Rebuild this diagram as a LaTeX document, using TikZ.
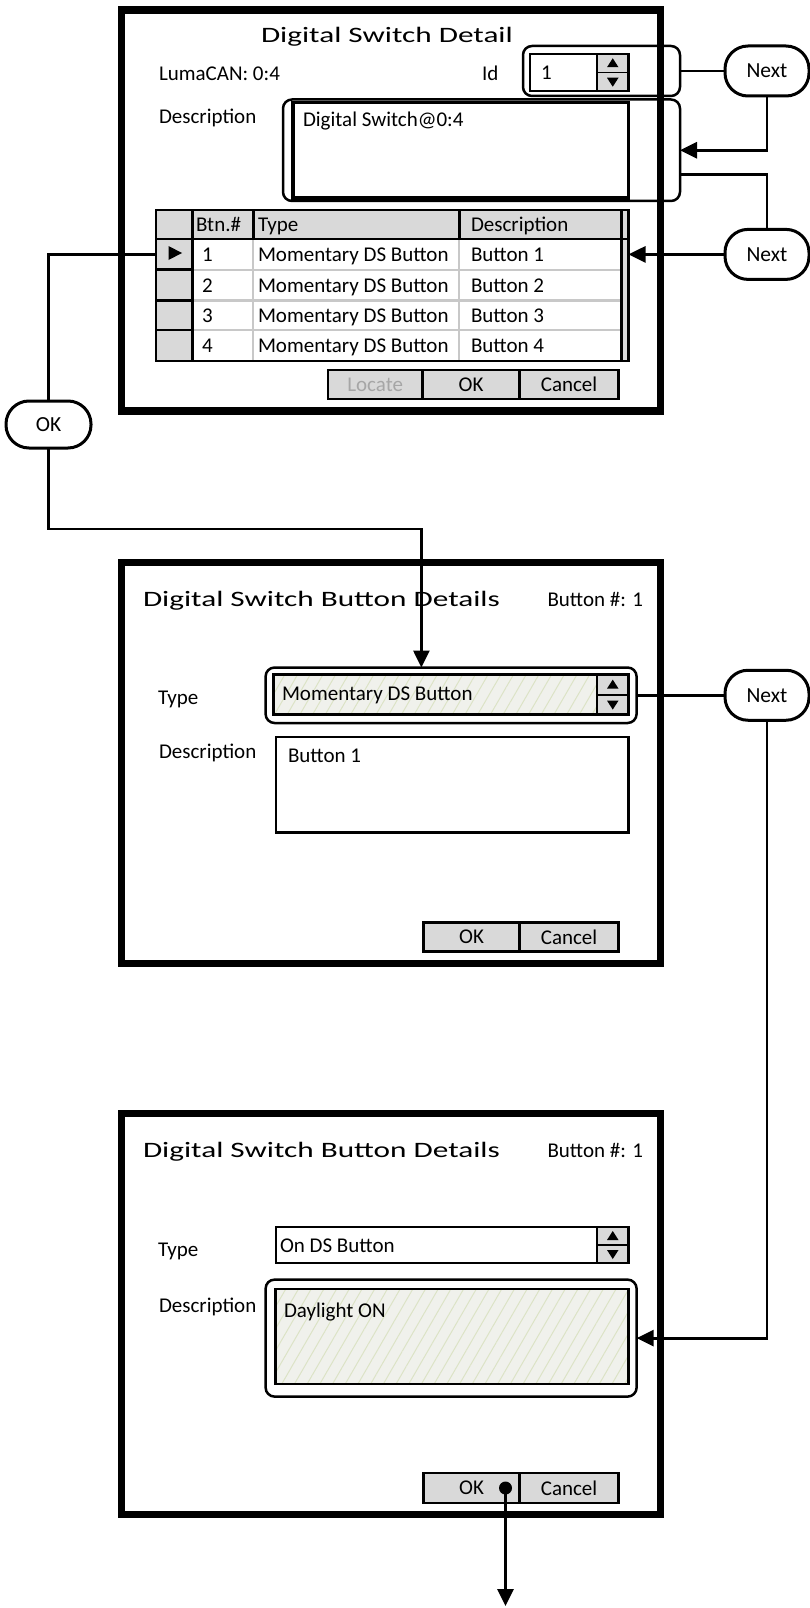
\documentclass[tikz,border=0pt]{standalone}
\usepackage{fontspec}
\setmainfont{Carlito}
\newfontfamily\wideface[FakeStretch=1.42]{Carlito}
\usetikzlibrary{arrows.meta,patterns.meta,positioning}

\definecolor{panelgray}{HTML}{D9D9D9}
\definecolor{gridgray}{HTML}{C8C8C8}
\definecolor{hatchbg}{HTML}{F0F1EC}
\definecolor{hatchln}{HTML}{DCE3C6}
\definecolor{dimtext}{HTML}{A6A6A6}

\tikzset{
  every node/.style={inner sep=0pt, outer sep=0pt},
  txt/.style={font=\fontsize{21}{25}\selectfont, anchor=base west},
  heading/.style={font=\wideface\fontsize{22}{26}\selectfont, anchor=base west},
  dialog/.style={draw, line width=7.5pt, anchor=north west, minimum width=539pt, minimum height=401pt},
  hilite/.style={draw, line width=2.5pt, rounded corners=9pt, anchor=north west},
  field/.style={draw, line width=2.5pt, fill=white, anchor=north west},
  hatched/.style={draw, line width=2.8pt, anchor=north west, preaction={fill=hatchbg},
    pattern={Lines[angle=60,distance=11pt,line width=1pt]}, pattern color=hatchln},
  btn/.style={draw, line width=2.8pt, fill=panelgray, anchor=north west, font=\fontsize{21}{25}\selectfont},
  jump/.style={draw, line width=3pt, fill=white, rounded corners=23pt, minimum width=84pt,
    minimum height=50pt, font=\fontsize{21.5}{25}\selectfont},
  link/.style={line width=2.8pt},
  go/.style={link, -{Triangle[length=17pt,width=16pt]}},
}

% up/down arrows of a spin box: x, top y, height
\newcommand\spinner[3]{%
  \fill[panelgray] (#1,#2+1.2) rectangle (#1+30.3,#2+#3-1.2);
  \draw[line width=2.2pt] (#1,#2) -- (#1,#2+#3);
  \draw[line width=1.8pt] (#1,#2+#3/2) -- (#1+31.5,#2+#3/2);
  \fill (#1+10,#2+#3/4+4) -- (#1+21.5,#2+#3/4+4) -- (#1+15.75,#2+#3/4-5) -- cycle;
  \fill (#1+10,#2+3*#3/4-4) -- (#1+21.5,#2+3*#3/4-4) -- (#1+15.75,#2+3*#3/4+5) -- cycle;
}

\begin{document}
\begin{tikzpicture}[x=1pt, y=-1pt]
\useasboundingbox (0,0) rectangle (810,1608);

%% Digital switch detail %%

\node[dialog] (dlgswitch) at (121.5,10) {};
\node[heading] (ttlswitch) at (261,42.3) {Digital Switch Detail};
\node[txt] (lumacan) at (159,81) {LumaCAN: 0:4};
\node[txt] (idlbl) at (482,81) {Id};

\node[hilite, minimum width=157pt, minimum height=50pt] (idsel) at (523,46) {};
\node[field, minimum width=98.5pt, minimum height=37pt] (idspin) at (530,54) {};
\spinner{597}{54}{37}
\node[txt] (idval) at (541,80) {1};

\node[txt] (desclbl) at (159,124) {Description};
\node[hilite, minimum width=397pt, minimum height=101.5pt] (descsel) at (283,99.5) {};
\node[field, line width=3.2pt, minimum width=335.5pt, minimum height=95.5pt] (descbox) at (293,102.5) {};
\node[txt] (descval) at (303,127) {Digital Switch@0:4};

% button table
\node[draw, line width=2.8pt, fill=white, anchor=north west, minimum width=472.5pt, minimum height=151pt] (btntable) at (156,210) {};
\fill[panelgray] (156,210) rectangle (628.5,239);
\fill[panelgray] (156,239) rectangle (192.8,361);
\fill[panelgray] (621.3,239) rectangle (628.5,361);
\foreach \ry in {269.7,300.4,330}
  \draw[gridgray, line width=2.2pt] (192.8,\ry) -- (621.3,\ry);
\foreach \cx in {253.2,459.3}
  \draw[gridgray, line width=2.2pt] (\cx,239) -- (\cx,361);
\draw[line width=2.8pt] (156,239) -- (628.5,239);
\foreach \cx in {192.8,253.2,459.3}
  \draw[line width=2.8pt] (\cx,210) -- (\cx,239);
\draw[line width=2.8pt] (192.8,210) -- (192.8,361);
\draw[line width=2.8pt] (621.3,210) -- (621.3,361);
\foreach \ry in {269.7,300.4,330}
  \draw[line width=2.8pt] (156,\ry) -- (192.8,\ry);
\draw[line width=2.8pt] (btntable.north west) rectangle (btntable.south east);

\node[anchor=north west, minimum width=36.8pt, minimum height=30.7pt] (rowmark) at (156,239) {};
\fill (168.5,246) -- (168.5,260) -- (182,253) -- cycle;

\node[txt] (hdnum) at (196,231.5) {Btn.\#};
\node[txt] (hdtype) at (258,231.5) {Type};
\node[txt] (hddesc) at (471,231.5) {Description};
\foreach \n/\ry in {1/261.4,2/292,3/322.2,4/352.5} {
  \node[txt] (num\n) at (202,\ry) {\n};
  \node[txt] (kind\n) at (258,\ry) {Momentary DS Button};
  \node[txt] (name\n) at (471,\ry) {Button \n};
}

\node[btn, minimum width=94.4pt, minimum height=29pt, text=dimtext] (locate) at (328,370) {Locate};
\node[btn, minimum width=97.4pt, minimum height=29pt] (okone) at (422.4,370) {OK};
\node[btn, minimum width=98.5pt, minimum height=29pt] (cancelone) at (519.8,370) {Cancel};


%% Button details (type) %%

\node[dialog] (dlgtype) at (121.5,562.5) {};
\node[heading] (ttltype) at (143,606.7) {Digital Switch Button Details};
\node[txt] (numtype) at (547.5,606.7) {Button \#: 1};

\node[txt] (typelbl) at (158,704) {Type};
\node[hilite, minimum width=371pt, minimum height=55.5pt] (combosel) at (265.6,667.5) {};
\node[hatched, minimum width=354.8pt, minimum height=40pt] (combotype) at (273.7,674.6) {};
\spinner{597}{674.6}{40}
\node[txt] (typeval) at (282,700) {Momentary DS Button};

\node[txt] (desclbltwo) at (159,758.5) {Description};
\node[field, minimum width=352.7pt, minimum height=95.6pt] (descboxtwo) at (275.8,737) {};
\node[txt] (descvaltwo) at (288,762.6) {Button 1};

\node[btn, minimum width=96.3pt, minimum height=28.7pt] (oktwo) at (423.5,922.8) {OK};
\node[btn, minimum width=98.5pt, minimum height=28.7pt] (canceltwo) at (519.8,922.8) {Cancel};


%% Button details (description) %%

\node[dialog] (dlgdesc) at (121.5,1113.5) {};
\node[heading] (ttldesc) at (143,1157.7) {Digital Switch Button Details};
\node[txt] (numdesc) at (547.5,1157.7) {Button \#: 1};

\node[txt] (typelblthree) at (158,1256) {Type};
\node[field, minimum width=352.7pt, minimum height=36pt] (combodesc) at (275.8,1227) {};
\spinner{597}{1227}{36}
\node[txt] (typevalthree) at (280,1252) {On DS Button};

\node[txt] (desclblthree) at (159,1312) {Description};
\node[hilite, minimum width=371pt, minimum height=117pt] (descselthree) at (265.6,1279.6) {};
\node[hatched, minimum width=352.7pt, minimum height=95pt] (descboxthree) at (275.8,1289) {};
\node[txt] (descvalthree) at (284,1317) {Daylight ON};

\node[btn, minimum width=96.3pt, minimum height=30pt] (okthree) at (423.5,1473) {OK};
\node[btn, minimum width=98.5pt, minimum height=30pt] (cancelthree) at (519.8,1473) {Cancel};
\node[circle, fill, minimum size=13pt] (okdot) at (505.5,1488) {};


%% Jumps %%

\node[jump] (nxtid) at (767,71) {Next};
\node[jump] (nxtrow) at (767,254.4) {Next};
\node[jump, minimum width=85pt, minimum height=47pt] (okjump) at (48.5,424.5) {OK};
\node[jump] (nxttype) at (767,695.25) {Next};

\coordinate (bend) at (421.4,529);
\coordinate (exit) at (505.5,1606);

\draw[link] (idsel.east) -- (nxtid.west);
\draw[go] (nxtid.south) |- (descsel.east);
\draw[link] ([yshift=-24pt]descsel.east) -| (nxtrow.north);
\draw[go] (nxtrow.west) -- (nxtrow.west -| btntable.east);

\draw[link] (rowmark.west) -| (okjump.north);
\draw[go] (okjump.south) |- (bend) -- (bend |- combosel.north);

\draw[link] (combosel.east) -- (nxttype.west);
\draw[go] (nxttype.south) |- (descselthree.east);

\draw[go] (okdot.center) -- (exit);

\end{tikzpicture}
\end{document}
